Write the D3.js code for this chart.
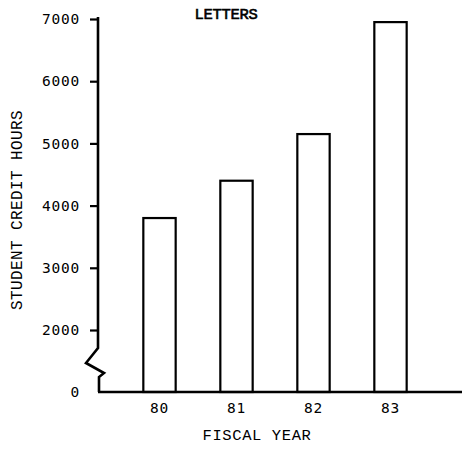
<!DOCTYPE html>
<html>
<head>
<meta charset="utf-8">
<script src="https://cdn.jsdelivr.net/npm/d3@7"></script>
<style>
  html, body { margin: 0; padding: 0; background: #fff; }
  svg { display: block; }
</style>
</head>
<body>
<svg id="chart" width="466" height="449"></svg>
<script>
const years = ["80", "81", "82", "83"];
const creditHours = [3800, 4400, 5150, 6950];
const yTicks = [0, 2000, 3000, 4000, 5000, 6000, 7000];
const chartTitle = "LETTERS";
const xTitle = "FISCAL YEAR";
const yTitle = "STUDENT CREDIT HOURS";

const svg = d3.select("#chart");
const baseY = 392, axisX = 98;

// broken axis: 0 sits where 1000 would be
const y = d3.scaleLinear().domain([0, 2000, 7000]).range([baseY, 330, 19]);
const x = d3.scaleBand().domain(years).range([121, 429]).paddingInner(0.58).paddingOuter(0.29);

// bars
svg.append("g").selectAll("rect").data(years).join("rect")
  .attr("x", d => x(d))
  .attr("y", (d, i) => y(creditHours[i]))
  .attr("width", x.bandwidth())
  .attr("height", (d, i) => baseY - y(creditHours[i]))
  .attr("fill", "none").attr("stroke", "#000").attr("stroke-width", 2.2);

// y axis with zigzag break
const yAxis = d3.axisLeft(y).tickValues(yTicks).tickSize(8).tickPadding(10).tickFormat(d3.format("d"));
const gy = svg.append("g").attr("transform", `translate(${axisX},0)`).call(yAxis);
gy.select(".domain").remove();
gy.selectAll(".tick line").attr("stroke", "#000").attr("stroke-width", 2.2);
gy.selectAll(".tick text").attr("fill", "#000")
  .style("font-family", "'DejaVu Sans Mono', monospace").style("font-size", "14.5px")
  .style("letter-spacing", "0.8px");
gy.selectAll(".tick").filter(d => d === 0).select("line").remove();

const axisPath = d3.line()([
  [axisX, 17], [axisX, 348], [86, 363], [104, 373], [99, 377], [99, baseY]
]);
svg.append("path").attr("d", axisPath).attr("fill", "none")
  .attr("stroke", "#000").attr("stroke-width", 2.6).attr("stroke-linejoin", "miter");

// x axis
const xAxis = d3.axisBottom(x).tickSize(0).tickPadding(11);
const gx = svg.append("g").attr("transform", `translate(0,${baseY})`).call(xAxis);
gx.select(".domain").remove();
gx.selectAll(".tick text").attr("fill", "#000")
  .style("font-family", "'DejaVu Sans Mono', monospace").style("font-size", "14.5px")
  .style("letter-spacing", "0.8px");
svg.append("line").attr("x1", axisX).attr("x2", 462).attr("y1", baseY).attr("y2", baseY)
  .attr("stroke", "#000").attr("stroke-width", 2.6);

// titles
svg.append("text").attr("x", 226).attr("y", 19).attr("text-anchor", "middle")
  .attr("stroke", "#000").attr("stroke-width", 0.6)
  .style("font-family", "'Liberation Mono', monospace").style("font-size", "15.5px")
  .style("letter-spacing", "-0.3px").text(chartTitle);

svg.append("text").attr("x", 257).attr("y", 440).attr("text-anchor", "middle")
  .style("font-family", "'Liberation Mono', monospace").style("font-size", "15.5px")
  .style("letter-spacing", "0.6px").text(xTitle);

svg.append("text").attr("transform", "translate(22,210) rotate(-90)").attr("text-anchor", "middle")
  .style("font-family", "'Liberation Mono', monospace").style("font-size", "16px")
  .style("letter-spacing", "0.4px").text(yTitle);
</script>
</body>
</html>
